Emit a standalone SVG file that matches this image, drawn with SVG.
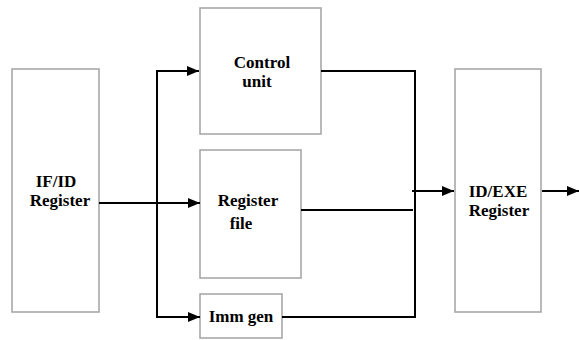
<svg xmlns="http://www.w3.org/2000/svg" width="579" height="340" viewBox="0 0 579 340">
  <style>
    .box { fill: #ffffff; stroke: #a8a8a8; stroke-width: 1.6; }
    .wire { fill: none; stroke: #000000; stroke-width: 2; }
    .label { font-family: "Times New Roman", "Liberation Serif", "DejaVu Serif", serif; font-weight: bold; font-size: 17px; fill: #000000; text-anchor: middle; }
  </style>
  <defs>
    <marker id="arrow" viewBox="0 0 12 10" refX="12" refY="5" markerWidth="12" markerHeight="10" markerUnits="userSpaceOnUse" orient="auto">
      <path d="M0,0 L12,5 L0,10 Z" fill="#000000"/>
    </marker>
  </defs>
  <rect width="579" height="340" fill="#ffffff"/>

  <g id="if-id-register">
    <rect class="box" x="12" y="69" width="87" height="243"/>
    <text class="label" x="56" y="187">IF/ID</text>
    <text class="label" x="60" y="206">Register</text>
  </g>

  <g id="control-unit">
    <rect class="box" x="200" y="8" width="121" height="126"/>
    <text class="label" x="262" y="68">Control</text>
    <text class="label" x="257" y="87">unit</text>
  </g>

  <g id="register-file">
    <rect class="box" x="200" y="150" width="101" height="128"/>
    <text class="label" x="248" y="206">Register</text>
    <text class="label" x="241" y="229">file</text>
  </g>

  <g id="imm-gen">
    <rect class="box" x="200" y="294" width="82" height="44"/>
    <text class="label" x="241" y="322">Imm gen</text>
  </g>

  <g id="id-exe-register">
    <rect class="box" x="455" y="69" width="86" height="243"/>
    <text class="label" x="498" y="197">ID/EXE</text>
    <text class="label" x="499" y="216">Register</text>
  </g>

  <g id="connectors">
    <!-- IF/ID to register file -->
    <line class="wire" x1="99" y1="203" x2="200" y2="203" marker-end="url(#arrow)"/>
    <!-- fan-out bus to control unit and imm gen -->
    <polyline class="wire" points="198,71 157,71 157,317 200,317"/>
    <line class="wire" x1="157" y1="71" x2="199" y2="71" marker-end="url(#arrow)"/>
    <line class="wire" x1="157" y1="317" x2="200" y2="317" marker-end="url(#arrow)"/>
    <!-- outputs merging into ID/EXE -->
    <polyline class="wire" points="321,71 415,71 415,318"/>
    <line class="wire" x1="301" y1="210" x2="413" y2="210"/>
    <line class="wire" x1="282" y1="317" x2="416" y2="317"/>
    <line class="wire" x1="412" y1="191" x2="454" y2="191" marker-end="url(#arrow)"/>
    <line class="wire" x1="542" y1="191" x2="579" y2="191" marker-end="url(#arrow)"/>
  </g>
</svg>
